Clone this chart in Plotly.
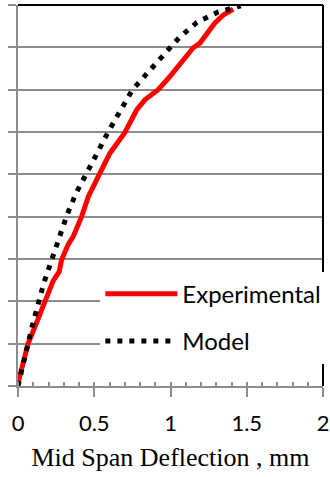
import plotly.graph_objects as go

# Experimental curve (deflection mm, load)
exp_x = [0.0, 0.067, 0.12, 0.177, 0.231, 0.27, 0.286, 0.33, 0.362, 0.417, 0.461, 0.533,
         0.603, 0.701, 0.745, 0.778, 0.832, 0.87, 0.887, 0.919, 0.996, 1.062, 1.149,
         1.193, 1.236, 1.29, 1.345, 1.411]
exp_y = [0.7, 10.1, 14.8, 19.9, 24.9, 27.0, 29.8, 33.5, 35.3, 40.0, 44.7, 50.0,
         55.0, 59.9, 62.8, 65.2, 67.6, 68.6, 69.1, 70.0, 73.1, 76.2, 79.9,
         81.0, 83.3, 85.7, 87.6, 89.0]

# Model curve
mod_x = [0.0, 0.09, 0.17, 0.242, 0.319, 0.38, 0.448, 0.522, 0.594, 0.668, 0.749,
         0.85, 0.955, 1.057, 1.173, 1.31, 1.461]
mod_y = [0.0, 13.7, 24.4, 32.4, 40.2, 45.5, 50.4, 55.2, 60.2, 65.1, 69.9,
         74.0, 78.0, 82.3, 85.9, 88.3, 89.8]

x_ticks = [0, 0.5, 1, 1.5, 2]
x_tick_labels = ["0", "0.5", "1", "1.5", "2"]

fig = go.Figure()
fig.add_trace(go.Scatter(x=exp_x, y=exp_y, mode="lines", name="Experimental",
                         legendgroup="a",
                         line=dict(color="#ff0000", width=5)))
fig.add_trace(go.Scatter(x=mod_x, y=mod_y, mode="lines", name="Model",
                         legendgroup="b",
                         line=dict(color="#000000", width=5, dash="5px,7px")))

grid = "#8c8c8c"
fig.update_layout(
    width=330, height=477,
    margin=dict(l=18, r=7, t=5, b=91, autoexpand=False),
    paper_bgcolor="white", plot_bgcolor="white",
    showlegend=True,
    legend=dict(x=0.27, y=0.30, xanchor="left", yanchor="top",
                bgcolor="white", borderwidth=0, itemwidth=72,
                font=dict(family="Lato", size=24, color="black"),
                tracegroupgap=13),
    xaxis=dict(range=[0, 2], tickvals=x_ticks, ticktext=x_tick_labels,
               automargin=False,
               showgrid=False, zeroline=False,
               showline=True, linecolor=grid, linewidth=2,
               ticks="outside", ticklen=9, tickwidth=2, tickcolor=grid,
               ticklabelstandoff=8,
               minor=dict(dtick=0.1, ticks="inside", ticklen=4, tickwidth=1.5,
                          tickcolor=grid, showgrid=False),
               tickfont=dict(family="Lato", size=22, color="black"),
               title=dict(text="Mid Span Deflection , mm", standoff=12,
                          font=dict(family="Liberation Serif", size=26, color="black"))),
    yaxis=dict(range=[0, 90], dtick=10, showticklabels=False, automargin=False,
               showgrid=True, gridcolor=grid, gridwidth=1.5, zeroline=False,
               showline=True, linecolor=grid, linewidth=2,
               ticks="outside", ticklen=8, tickwidth=2, tickcolor=grid),
)
fig.add_shape(type="line", xref="paper", yref="paper", x0=0, x1=1, y0=1, y1=1,
              line=dict(color="black", width=2), layer="above")
fig.add_shape(type="line", xref="paper", yref="paper", x0=1, x1=1, y0=0, y1=1,
              line=dict(color="black", width=2), layer="above")

fig.write_html("out.html", config={"displayModeBar": False},
               post_script="document.body.style.margin='0';")
